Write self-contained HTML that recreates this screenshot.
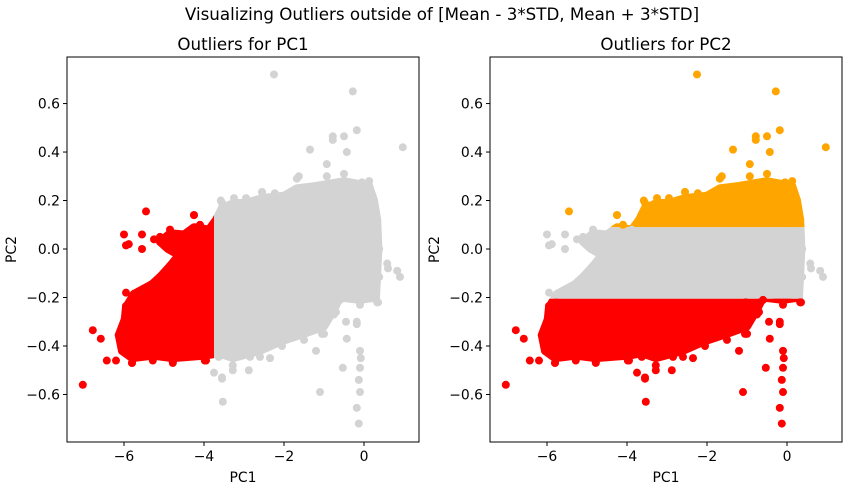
<!DOCTYPE html>
<html><head><meta charset="utf-8"><style>
body{margin:0;background:#fff;}
svg{font-family:"DejaVu Sans","Liberation Sans",sans-serif;}
</style></head><body>
<svg id="fig" width="851" height="493" xmlns="http://www.w3.org/2000/svg">
<text x="442" y="20" text-anchor="middle" font-size="16.7">Visualizing Outliers outside of [Mean - 3*STD, Mean + 3*STD]</text>
</svg>
<script>
// Dense cloud outline (PC1, PC2)
const cloudPC1 = [-6.05,-6.13,-5.98,-5.95,-5.75,-5.3,-5.1,-4.85,-4.63,-4.9,-5.1,-4.85,-4.5,-4.25,-3.88,-3.7,-3.55,-3.25,-2.95,-2.55,-2.0,-1.68,-1.2,-0.5,0.13,0.25,0.33,0.36,0.33,0.3,-0.1,-0.6,-0.75,-1.0,-1.5,-2.05,-2.6,-3.28,-3.63,-3.98,-4.78,-5.28,-5.8];
const cloudPC2 = [-0.42,-0.355,-0.29,-0.24,-0.185,-0.145,-0.115,-0.07,-0.025,0.0,0.03,0.065,0.06,0.09,0.08,0.12,0.17,0.19,0.19,0.21,0.22,0.25,0.26,0.28,0.26,0.2,0.12,0.0,-0.1,-0.2,-0.21,-0.2,-0.25,-0.32,-0.35,-0.38,-0.42,-0.45,-0.43,-0.44,-0.45,-0.44,-0.45];
// Sparse / edge points
const ptPC1 = [-2.25,-0.28,0.97,-0.18,-0.78,-0.5,-0.78,-1.35,-0.43,-0.93,-1.63,-3.3,-3.58,-2.95,-2.55,0.6,0.83,0.9,0.35,-1.03,-0.7,-0.45,-0.43,-1.05,-1.2,-0.53,-0.1,-0.13,-0.1,-1.1,-0.18,-0.13,-0.08,-0.18,-2.85,-3.55,-3.53,-3.28,-3.75,-7.03,-6.78,-6.58,-6.43,-6.2,-5.8,-4.78,-5.45,-6.0,-5.88,-5.55,-5.55,-5.95,-4.25,-5.1,-5.95,-5.95,-3.95,-4.3,-5.25,
 -3.55,-3.25,-2.95,-2.55,-2.23,-1.68,-0.93,-0.5,-0.05,0.13,0.25,0.33,0.38,0.58,0.38,0.33,-0.1,-0.18,-0.1,-0.6,-0.75,-1.0,-1.5,-2.05,-2.35,-2.6,-2.88,-3.28,-3.55,-3.63,
 -3.98,-4.78,-5.28,-5.8,-6.05,-6.13,-5.98,-5.95,-5.75,-5.3,-5.1,-4.85,-4.63,-4.43,-5.1,-4.85,-4.5,-4.25,-4.1,-3.88];
const ptPC2 = [0.72,0.65,0.42,0.49,0.465,0.465,0.45,0.41,0.40,0.35,0.30,0.16,0.2,0.19,0.235,-0.08,-0.09,-0.115,-0.22,-0.22,-0.26,-0.3,-0.37,-0.35,-0.42,-0.49,-0.49,-0.54,-0.59,-0.59,-0.655,-0.72,-0.45,-0.3,-0.445,-0.53,-0.63,-0.5,-0.51,-0.56,-0.335,-0.37,-0.46,-0.46,-0.47,-0.466,0.155,0.06,0.02,0.06,0.0,0.015,0.14,0.05,-0.235,-0.18,-0.46,0.06,0.04,
 0.19,0.21,0.21,0.235,0.23,0.29,0.30,0.31,0.275,0.28,0.2,0.12,0.0,-0.06,-0.115,-0.22,-0.23,-0.31,-0.42,-0.21,-0.27,-0.35,-0.375,-0.40,-0.45,-0.445,-0.5,-0.48,-0.535,-0.445,
 -0.46,-0.47,-0.46,-0.47,-0.42,-0.355,-0.29,-0.24,-0.185,-0.145,-0.115,-0.07,-0.025,-0.03,0.03,0.08,0.06,0.14,0.10,0.08];
const xTicks = [-6,-4,-2,0];
const yTicks = [-0.6,-0.4,-0.2,0.0,0.2,0.4,0.6];
const pc1Thresh = -3.75;
const pc2Upper = 0.09, pc2Lower = -0.205;

const NS = "http://www.w3.org/2000/svg";
const fig = document.getElementById('fig');
function mk(tag, attrs, parent){const e=document.createElementNS(NS,tag);for(const k in attrs)e.setAttribute(k,attrs[k]);parent.appendChild(e);return e;}

function panel(left, title, mode, idx){
  const top=57, W=352, H=385;
  const xMin=-7.425, xMax=1.375, yMin=-0.796, yMax=0.792;
  const sx=v=>left+(v-xMin)/(xMax-xMin)*W;
  const sy=v=>top+(yMax-v)/(yMax-yMin)*H;
  const g=mk('g',{},fig);
  
  
  const defs=mk('defs',{},g);
  const cp=mk('clipPath',{id:'area'+idx},defs);
  mk('rect',{x:left,y:top,width:W,height:H},cp);
  let bands;
  if(mode==='pc1') bands=[['#ff0000',xMin,pc1Thresh,yMin,yMax],['#d3d3d3',pc1Thresh,xMax,yMin,yMax]];
  else bands=[['#ffa500',xMin,xMax,pc2Upper,yMax],['#d3d3d3',xMin,xMax,pc2Lower,pc2Upper],['#ff0000',xMin,xMax,yMin,pc2Lower]];
  const pts=cloudPC1.map((v,i)=>sx(v)+','+sy(cloudPC2[i])).join(' ');
  const plot=mk('g',{'clip-path':'url(#area'+idx+')'},g);
  bands.forEach((b,bi)=>{
    const c=mk('clipPath',{id:'band'+idx+'_'+bi},defs);
    mk('rect',{x:sx(b[1]),y:sy(b[4]),width:sx(b[2])-sx(b[1]),height:sy(b[3])-sy(b[4])},c);
    const poly=mk('polygon',{points:pts,fill:b[0],stroke:b[0],'stroke-width':8,'stroke-linejoin':'round','clip-path':'url(#band'+idx+'_'+bi+')'},plot);
    
    
  });
  ptPC1.forEach((x,i)=>{
    const y=ptPC2[i];
    let col;
    if(mode==='pc1') col = x<pc1Thresh?'#ff0000':'#d3d3d3';
    else col = y>pc2Upper?'#ffa500':(y<pc2Lower?'#ff0000':'#d3d3d3');
    const c=mk('circle',{cx:sx(x),cy:sy(y),r:4,fill:col},plot);
    
    
  });
  const fr=mk('rect',{x:left,y:top,width:W,height:H,fill:'none',stroke:'#000','stroke-width':1},g);
  
  
  xTicks.forEach(t=>{
    mk('line',{x1:sx(t),x2:sx(t),y1:top+H,y2:top+H+4,stroke:'#000'},g);
    const tx=mk('text',{x:sx(t),y:top+H+19,'text-anchor':'middle','font-size':13.9},g);
    tx.textContent=(t<0?'\u2212'+(-t):t);
    
    
  });
  yTicks.forEach(t=>{
    mk('line',{x1:left-4,x2:left,y1:sy(t),y2:sy(t),stroke:'#000'},g);
    const tx=mk('text',{x:left-7,y:sy(t)+5,'text-anchor':'end','font-size':13.9},g);
    tx.textContent=(t<0?'\u2212':'')+Math.abs(t).toFixed(1);
    
    
  });
  const ti=mk('text',{x:left+W/2,y:50,'text-anchor':'middle','font-size':16.7},g);
  ti.textContent=title;
  
  
  const xl=mk('text',{x:left+W/2,y:482,'text-anchor':'middle','font-size':13.9},g);
  xl.textContent='PC1';
  
  
  const yl=mk('text',{x:0,y:0,'text-anchor':'middle','font-size':13.9,transform:'translate('+(left-51)+','+(top+H/2)+') rotate(-90)'},g);
  yl.textContent='PC2';
  
  
}
panel(67,'Outliers for PC1','pc1',0);
panel(490,'Outliers for PC2','pc2',1);
</script>
</body></html>
